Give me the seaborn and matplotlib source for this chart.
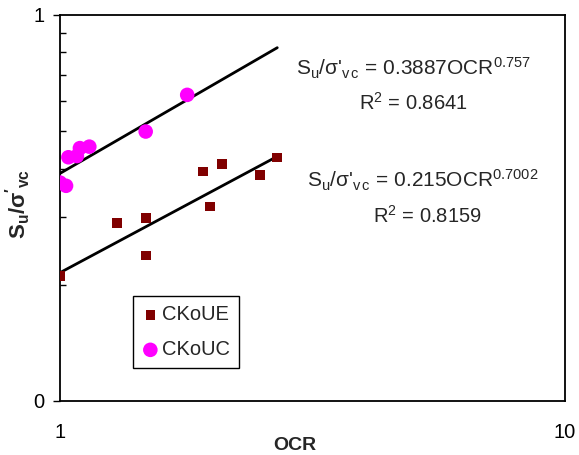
import numpy as np
import pandas as pd
import matplotlib
matplotlib.use("Agg")
import matplotlib.pyplot as plt
import seaborn as sns
from matplotlib.ticker import FixedLocator, FixedFormatter, NullFormatter

# ---- data ----
ue_ocr = [1.0, 1.295, 1.48, 1.48, 1.922, 1.982, 2.096, 2.489, 2.693]
ue_su = [0.211, 0.289, 0.298, 0.238, 0.393, 0.319, 0.411, 0.385, 0.427]
uc_ocr = [1.0, 1.028, 1.039, 1.08, 1.095, 1.143, 1.478, 1.786]
uc_su = [0.368, 0.361, 0.428, 0.431, 0.452, 0.456, 0.499, 0.621]
series_names = ["CKoUE", "CKoUC"]
fit_coef = [0.215, 0.3887]
fit_exp = [0.7002, 0.757]
fit_r2 = ["0.8159", "0.8641"]
fit_coef_txt = ["0.215", "0.3887"]
fit_exp_txt = ["0.7002", "0.757"]
x_ticks = [1, 10]
x_tick_labels = ["1", "10"]
y_ticks = [0.1, 1]
y_tick_labels = ["0", "1"]
y_minor = [0.2, 0.3, 0.4, 0.5, 0.6, 0.7, 0.8, 0.9]

sns.set_theme(style="white")
plt.rcParams["font.family"] = ["Liberation Sans", "DejaVu Sans"]
plt.rcParams["mathtext.fontset"] = "custom"
plt.rcParams["mathtext.rm"] = "Liberation Sans"
plt.rcParams["mathtext.it"] = "Liberation Sans"
plt.rcParams["mathtext.bf"] = "Liberation Sans:bold"

fig = plt.figure(figsize=(5.79, 4.55), dpi=100)
ax = fig.add_axes([60/579, 1-401/455, 505/579, 386/455])

df_ue = pd.DataFrame({"OCR": ue_ocr, "Su": ue_su})
df_uc = pd.DataFrame({"OCR": uc_ocr, "Su": uc_su})

# fit lines
xmax = max(max(ue_ocr), max(uc_ocr))
xs = np.geomspace(1.0, xmax, 60)
for c, e in zip(fit_coef, fit_exp):
    dfl = pd.DataFrame({"OCR": xs, "Su": c * xs ** e})
    sns.lineplot(data=dfl, x="OCR", y="Su", ax=ax, color="black", lw=2.0, zorder=2)

sns.scatterplot(data=df_ue, x="OCR", y="Su", ax=ax, marker="s", s=48, color="#800000",
                edgecolor="none", zorder=3, label=series_names[0])
sns.scatterplot(data=df_uc, x="OCR", y="Su", ax=ax, marker="o", s=110, color="#FF00FF",
                edgecolor="none", zorder=3, label=series_names[1])

ax.set_xscale("log")
ax.set_yscale("log")
ax.set_xlim(1, 10)
ax.set_ylim(0.1, 1)

ax.xaxis.set_major_locator(FixedLocator(x_ticks))
ax.xaxis.set_major_formatter(FixedFormatter(x_tick_labels))
ax.xaxis.set_minor_locator(FixedLocator([]))
ax.xaxis.set_minor_formatter(NullFormatter())
ax.yaxis.set_major_locator(FixedLocator(y_ticks))
ax.yaxis.set_major_formatter(FixedFormatter(y_tick_labels))
ax.yaxis.set_minor_locator(FixedLocator(y_minor))
ax.yaxis.set_minor_formatter(NullFormatter())

ax.tick_params(axis="x", which="major", length=0, pad=16, labelsize=14.5, colors="black")
ax.tick_params(axis="y", which="major", direction="out", length=5, width=1, pad=6,
               labelsize=14.5, colors="black", left=True)
ax.tick_params(axis="y", which="minor", direction="in", length=4, width=1, left=True,
               colors="black")
for sp in ax.spines.values():
    sp.set_visible(True)
    sp.set_color("black")
    sp.set_linewidth(1.3)

ax.set_xlabel("OCR", fontsize=14, fontweight="bold")
ax.xaxis.set_label_coords((295-60)/505, -0.093)
ax.set_ylabel(r"$\mathbf{S_u/\sigma'_{vc}}$", fontsize=16)
ax.yaxis.set_label_coords(-0.054, 0.51)

# equations
def eq(coef, ex):
    return r"S$_\mathrm{u}$/σ'$_\mathrm{v\,c}$ = " + coef + r"OCR$^{" + ex + r"}$"

ax.text(0.699, 0.862, eq(fit_coef_txt[1], fit_exp_txt[1]), transform=ax.transAxes,
        ha="center", va="center", fontsize=15)
ax.text(0.70, 0.772, r"R$^2$ = " + fit_r2[1], transform=ax.transAxes,
        ha="center", va="center", fontsize=14.5)
ax.text(0.719, 0.571, eq(fit_coef_txt[0], fit_exp_txt[0]), transform=ax.transAxes,
        ha="center", va="center", fontsize=15)
ax.text(0.728, 0.480, r"R$^2$ = " + fit_r2[0], transform=ax.transAxes,
        ha="center", va="center", fontsize=14.5)

h, l = ax.get_legend_handles_labels()
sel = [(hh, ll) for hh, ll in zip(h, l) if ll in series_names]
leg = ax.legend([s[0] for s in sel], [s[1] for s in sel], loc="lower left",
                bbox_to_anchor=(0.145, 0.085), borderaxespad=0, fontsize=14.5,
                frameon=True, fancybox=False, edgecolor="black", framealpha=1,
                labelspacing=0.8, handletextpad=0.2, borderpad=0.45, handlelength=0.8)
leg.get_frame().set_linewidth(1.0)

fig.savefig("out.png", dpi=100)
